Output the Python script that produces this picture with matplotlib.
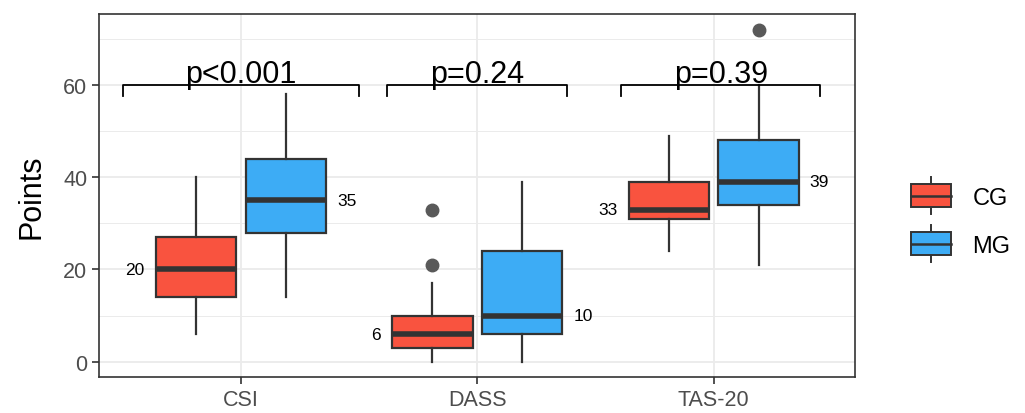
import numpy as np
import matplotlib.pyplot as plt
from matplotlib.patches import Rectangle
from matplotlib.lines import Line2D
from matplotlib.legend_handler import HandlerBase

plt.rcParams['font.family'] = ['Liberation Sans', 'DejaVu Sans']

# datos
categorias = ["CSI", "DASS", "TAS-20"]
grupos = ["CG", "MG"]
colores = ["#F9533F", "#3DACF5"]

# (whislo, q1, med, q3, whishi) por grupo y categoria
cg_stats = [(6, 14, 20, 27, 40), (0, 3, 6, 10, 17), (24, 31, 33, 39, 49)]
mg_stats = [(14, 28, 35, 44, 58), (0, 6, 10, 24, 39), (21, 34, 39, 48, 60)]
cg_outliers = [[], [21, 33], []]
mg_outliers = [[], [], [72]]

# brackets de significancia
p_labels = ["p<0.001", "p=0.24", "p=0.39"]
bracket_left = [-0.50, -0.38, -0.39]
bracket_right = [0.50, 0.38, 0.45]
bracket_y = 60

fig = plt.figure(figsize=(10.25, 4.14), dpi=100)
ax = fig.add_axes([0.0966, 0.087, 0.738, 0.877])

offset = 0.19
ancho = 0.34
x = np.arange(1, len(categorias) + 1)

for g, (stats, outl, col) in enumerate([(cg_stats, cg_outliers, colores[0]),
                                        (mg_stats, mg_outliers, colores[1])]):
    bx = []
    for s, o in zip(stats, outl):
        bx.append(dict(whislo=s[0], q1=s[1], med=s[2], q3=s[3], whishi=s[4], fliers=o))
    pos = x + (offset if g == 1 else -offset)
    ax.bxp(bx, positions=pos, widths=ancho, patch_artist=True, showcaps=False,
           boxprops=dict(facecolor=col, edgecolor="#333333", linewidth=1.6),
           whiskerprops=dict(color="#333333", linewidth=1.6),
           medianprops=dict(color="#333333", linewidth=4),
           flierprops=dict(marker="o", markerfacecolor="#595959", markeredgecolor="#595959",
                           markersize=9), zorder=3)
    # etiquetas de mediana
    for p, s in zip(pos, stats):
        if g == 0:
            ax.annotate(str(s[2]), (p - ancho / 2, s[2]), xytext=(-8, 0),
                        textcoords="offset points", ha="right", va="center", fontsize=12.5)
        else:
            ax.annotate(str(s[2]), (p + ancho / 2, s[2]), xytext=(8, 0),
                        textcoords="offset points", ha="left", va="center", fontsize=12.5)

# brackets
for xi, lab, bl, br in zip(x, p_labels, bracket_left, bracket_right):
    ax.plot([xi + bl, xi + bl, xi + br, xi + br],
            [bracket_y - 2.3, bracket_y, bracket_y, bracket_y - 2.3],
            color="black", linewidth=1.3, zorder=4)
    ax.text(xi + (bl + br) / 2, bracket_y + 0.6, lab, ha="center", va="baseline",
            fontsize=22, zorder=5)

ax.set_xlim(0.4, 3.6)
ax.set_ylim(-3.3, 75.4)
ax.set_xticks(x)
ax.set_xticklabels(categorias)
ax.set_yticks([0, 20, 40, 60])
ax.set_yticks([10, 30, 50, 70], minor=True)
ax.tick_params(axis="both", which="major", labelsize=15.5, colors="#4D4D4D",
               length=5, width=1.2)
ax.tick_params(axis="both", which="major", color="#333333")
ax.tick_params(axis="y", which="minor", length=0)
ax.grid(True, which="major", color="#EBEBEB", linewidth=1.3, zorder=0)
ax.grid(True, which="minor", axis="y", color="#EBEBEB", linewidth=0.7, zorder=0)
ax.set_axisbelow(True)
for sp in ax.spines.values():
    sp.set_color("#333333")
    sp.set_linewidth(1.2)
ax.set_ylabel("Points", fontsize=22, labelpad=12)


# leyenda con mini boxplot
class HandlerCaja(HandlerBase):
    def create_artists(self, legend, orig_handle, xdescent, ydescent, width, height, fontsize, trans):
        col = orig_handle.get_facecolor()
        cx = width / 2 - xdescent
        y0 = -ydescent
        ext = height * 0.32
        rect = Rectangle((-xdescent, y0), width, height, facecolor=col,
                         edgecolor="#333333", linewidth=1.4, transform=trans)
        med = Line2D([-xdescent, width - xdescent], [y0 + height / 2] * 2, color="#333333",
                     linewidth=1.8, transform=trans)
        w1 = Line2D([cx, cx], [y0 - ext, y0], color="#333333", linewidth=1.4, transform=trans)
        w2 = Line2D([cx, cx], [y0 + height, y0 + height + ext], color="#333333",
                    linewidth=1.4, transform=trans)
        return [w1, w2, rect, med]


handles = [Rectangle((0, 0), 1, 1, facecolor=c) for c in colores]
fig.legend(handles, grupos, handler_map={Rectangle: HandlerCaja()}, loc="center left",
           bbox_to_anchor=(0.868, 0.465), frameon=False, fontsize=17,
           handlelength=1.7, handleheight=1.1, labelspacing=1.0, handletextpad=0.9)

plt.savefig("out.png", dpi=100)
